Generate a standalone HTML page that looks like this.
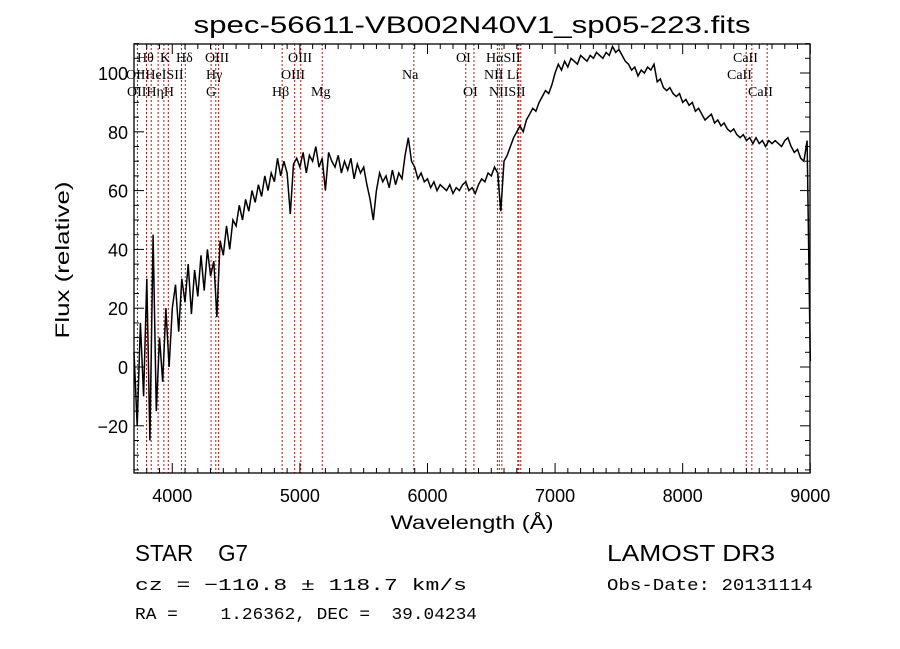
<!DOCTYPE html>
<html><head><meta charset="utf-8"><style>
html,body{margin:0;padding:0;background:#fff;}
svg{display:block;}
text{font-family:"Liberation Sans",sans-serif;fill:#000;}
.lbl{font-family:"Liberation Serif",serif;font-size:14px;}
</style></head><body>
<svg id="chart" width="900" height="649" viewBox="0 0 900 649" xmlns="http://www.w3.org/2000/svg">
<text x="472" y="33" font-size="24" text-anchor="middle" textLength="557" lengthAdjust="spacingAndGlyphs">spec-56611-VB002N40V1_sp05-223.fits</text>
<g id="lines"></g>
<g id="labels"></g>
<polyline id="spec" fill="none" stroke="#000" stroke-width="1.5"/>
<rect x="134" y="44" width="676" height="429" fill="none" stroke="#000" stroke-width="1.3"/>
<g id="ticks" stroke="#000" stroke-width="1"></g>
<g id="ticklabels"></g>
<text x="472" y="529" font-size="19" text-anchor="middle" textLength="163" lengthAdjust="spacingAndGlyphs">Wavelength (Å)</text>
<text transform="translate(69,260) rotate(-90)" font-size="19" text-anchor="middle" textLength="157" lengthAdjust="spacingAndGlyphs">Flux (relative)</text>
<text x="135" y="561" font-size="23" textLength="113" lengthAdjust="spacingAndGlyphs" xml:space="preserve" style="font-family:'Liberation Sans',sans-serif">STAR    G7</text>
<text x="607" y="561" font-size="23" textLength="168" lengthAdjust="spacingAndGlyphs" style="font-family:'Liberation Sans',sans-serif">LAMOST DR3</text>
<text x="135" y="590" font-size="17" textLength="332" lengthAdjust="spacingAndGlyphs" xml:space="preserve" style="font-family:'Liberation Mono',monospace">cz = −110.8 ± 118.7 km/s</text>
<text x="607" y="590" font-size="17" textLength="206" lengthAdjust="spacingAndGlyphs" style="font-family:'Liberation Mono',monospace">Obs-Date: 20131114</text>
<text x="135" y="619" font-size="17" textLength="342" lengthAdjust="spacingAndGlyphs" xml:space="preserve" style="font-family:'Liberation Mono',monospace">RA =    1.26362, DEC =  39.04234</text>
</svg>
<script>
const wlStart = 3700, wlStep = 25;
const flux = [
5,-20,15,-10,30,-25,45,-15,10,-5,20,0,
20,28,12,30,22,35,18,33,24,38,26,40,31,36,17,43,38,48,40,50,
48,55,50,57,53,60,56,62,58,65,60,66,63,71,65,70,66,52,69,71,
68,73,66,72,70,75,68,71,60,73,70,68,72,66,70,67,71,64,69,66,
68,62,57,50,60,66,63,65,61,67,62,66,64,72,78,70,68,64,66,63,
64,61,63,60,62,61,60,62,59,61,60,62,63,60,61,59,62,64,63,66,
65,68,66,53,70,72,75,78,80,82,80,84,86,88,87,90,92,94,93,96,
100,103,101,104,102,105,104,103,106,105,104,106,105,107,106,105,107,106,109,107,
108,106,104,103,101,102,99,101,100,102,101,103,97,98,95,94,95,93,92,93,
90,91,89,90,87,88,86,84,85,86,83,84,82,83,81,80,81,79,78,79,
77,78,76,78,76,77,75,77,76,77,76,75,77,78,75,73,74,71,70,77,
2];
const lineWl = [3727,3798,3835,3889,3934,3969,4072,4102,4304,4341,4363,4861,4959,5007,5175,5893,6300,6364,6548,6563,6583,6708,6716,6731,8498,8542,8662];
const labelText = ["Hθ","K","Hδ","OIII","OIII","OI","HαSII","CaII","OIIHeISII","Hγ","OIII","Na","NII Li","CaII","OIIHηH","G","Hβ","Mg","OI","NIISII","CaII"];
const labelX = [137,160,176,205,288,456,486,733,126,206,281,402,484,727,127,206,272,311,463,489,748];
const labelRow = [0,0,0,0,0,0,0,0,1,1,1,1,1,1,2,2,2,2,2,2,2];
const xTicks = [4000,5000,6000,7000,8000,9000];
const yTicks = [-20,0,20,40,60,80,100];
const X = w => 134 + (w - 3700) * 0.1276;
const Y = f => 367 - 2.94 * f;
const NS = "http://www.w3.org/2000/svg";
function mk(tag, parent){ const e=document.createElementNS(NS,tag); parent.appendChild(e); return e; }
const gl = document.getElementById('lines');
lineWl.forEach(w=>{
  const l = mk('line', gl);
  
  
  l.setAttribute('x1',X(w)); l.setAttribute('x2',X(w));
  l.setAttribute('y1',44); l.setAttribute('y2',473);
  l.setAttribute('stroke','#c01010'); l.setAttribute('stroke-width','1'); l.setAttribute('stroke-dasharray','2,2');
});
const glb = document.getElementById('labels');
labelText.forEach((t,i)=>{
  const e = mk('text', glb);
  
  
  e.setAttribute('x',labelX[i]); e.setAttribute('y',62+labelRow[i]*17);
  e.setAttribute('class','lbl');
  e.textContent = t;
});
const pts = flux.map((f,i)=> X(wlStart+i*wlStep).toFixed(1)+','+Y(Math.max(-36,Math.min(110,f))).toFixed(1));
document.getElementById('spec').setAttribute('points', pts.join(' '));
const gt = document.getElementById('ticks');
function tk(x1,y1,x2,y2){ const l=mk('line',gt); l.setAttribute('x1',x1);l.setAttribute('y1',y1);l.setAttribute('x2',x2);l.setAttribute('y2',y2); }
for(let w=3700; w<=9000; w+=100){ const big = w%1000===0; const L = big?10:5; tk(X(w),473,X(w),473-L); tk(X(w),44,X(w),44+L); }
for(let f=-35; f<=110; f+=5){ const big = f%20===0; const L = big?10:5; tk(134,Y(f),134+L,Y(f)); tk(810,Y(f),810-L,Y(f)); }
const gtl = document.getElementById('ticklabels');
xTicks.forEach(w=>{ const e=mk('text',gtl);
  
  
  e.setAttribute('x',X(w)); e.setAttribute('y',502); e.setAttribute('font-size','18'); e.setAttribute('text-anchor','middle'); e.textContent=w; });
yTicks.forEach(f=>{ const e=mk('text',gtl);
  
  
  e.setAttribute('x',128); e.setAttribute('y',Y(f)+7); e.setAttribute('font-size','18'); e.setAttribute('text-anchor','end'); e.textContent=(f<0?'−'+(-f):f); });
</script>
</body></html>
